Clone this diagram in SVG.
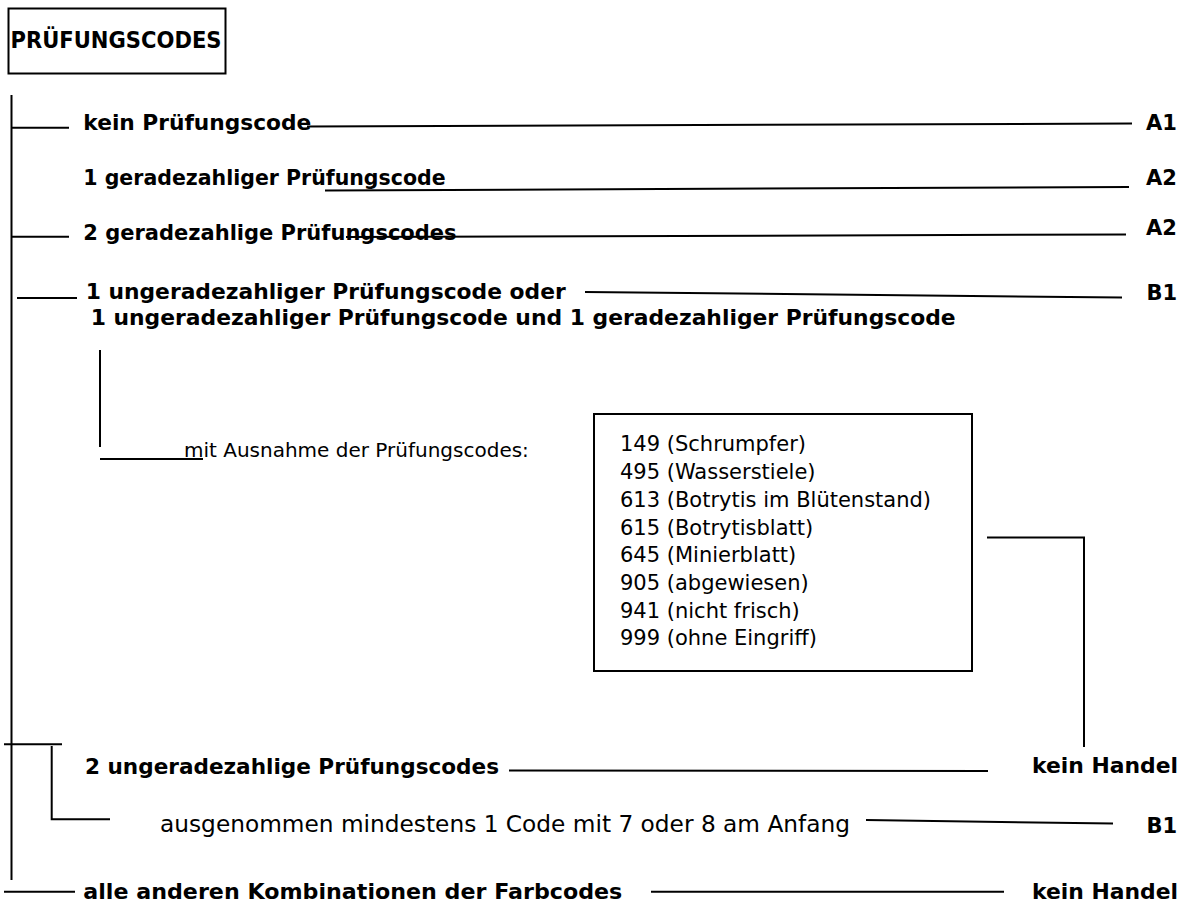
<svg xmlns="http://www.w3.org/2000/svg" width="1193" height="902" viewBox="0 0 1193 902">
<style>
.b{font-family:"DejaVu Sans",Verdana,sans-serif;font-weight:bold;fill:#000}
.r{font-family:"DejaVu Sans",Verdana,sans-serif;fill:#000}
.ln{stroke:#000;stroke-width:2;fill:none}
.box{stroke:#000;stroke-width:2;fill:#fff}
</style>
<rect width="1193" height="902" fill="#fff"/>
<g id="connectors">
<line class="ln" x1="11.5" y1="95" x2="11.5" y2="880"/>
<line class="ln" x1="12" y1="127.7" x2="69" y2="127.7"/>
<line class="ln" x1="307" y1="126.5" x2="1132" y2="123.5"/>
<line class="ln" x1="325" y1="190.5" x2="1129" y2="187"/>
<line class="ln" x1="12" y1="236.7" x2="69" y2="236.7"/>
<line class="ln" x1="346" y1="237" x2="1126" y2="234.5"/>
<line class="ln" x1="17" y1="298" x2="77" y2="298"/>
<line class="ln" x1="585" y1="292" x2="1122" y2="297.5"/>
<line class="ln" x1="100" y1="350" x2="100" y2="447"/>
<line class="ln" x1="100" y1="459" x2="203" y2="459"/>
<polyline class="ln" points="987,537.5 1084,537.5 1084,747"/>
<line class="ln" x1="4" y1="744.3" x2="62" y2="744.3"/>
<polyline class="ln" points="51.7,746 51.7,819.3 110,819.3"/>
<line class="ln" x1="509" y1="770.5" x2="988" y2="771"/>
<line class="ln" x1="866" y1="820" x2="1113" y2="823.5"/>
<line class="ln" x1="4" y1="891.7" x2="75" y2="891.7"/>
<line class="ln" x1="651" y1="891.7" x2="1004" y2="891.7"/>
</g>
<g id="title">
<rect class="box" x="8.5" y="8.5" width="217" height="65"/>
<text class="b" x="10.5" y="48" style="font-size:23px" textLength="211" lengthAdjust="spacingAndGlyphs">PRÜFUNGSCODES</text>
</g>
<g id="n-kein">
<text class="b" x="83.3" y="130" style="font-size:21px" textLength="228" lengthAdjust="spacingAndGlyphs">kein Prüfungscode</text>
<text class="b" x="1146" y="130" style="font-size:21px">A1</text>
</g>
<g id="n-1gerade">
<text class="b" x="83.3" y="185" style="font-size:20.5px">1 geradezahliger Prüfungscode</text>
<text class="b" x="1146" y="185" style="font-size:21px">A2</text>
</g>
<g id="n-2gerade">
<text class="b" x="83.3" y="240" style="font-size:21px">2 geradezahlige Prüfungscodes</text>
<text class="b" x="1146" y="235" style="font-size:21px">A2</text>
</g>
<g id="n-1ungerade">
<text class="b" x="85.7" y="298.5" style="font-size:21px" textLength="480" lengthAdjust="spacingAndGlyphs">1 ungeradezahliger Prüfungscode oder</text>
<text class="b" x="90.7" y="324.5" style="font-size:21px" textLength="865" lengthAdjust="spacingAndGlyphs">1 ungeradezahliger Prüfungscode und 1 geradezahliger Prüfungscode</text>
<text class="b" x="1146.5" y="300" style="font-size:21px">B1</text>
</g>
<g id="n-ausnahme">
<text class="r" x="184" y="457" style="font-size:20px">mit Ausnahme der Prüfungscodes:</text>
</g>
<g id="n-codes" style="font-size:21px">
<rect class="box" x="594" y="414" width="378" height="257"/>
<text class="r" x="620" y="451">149 (Schrumpfer)</text>
<text class="r" x="620" y="479">495 (Wasserstiele)</text>
<text class="r" x="620" y="507">613 (Botrytis im Blütenstand)</text>
<text class="r" x="620" y="534.5">615 (Botrytisblatt)</text>
<text class="r" x="620" y="562">645 (Minierblatt)</text>
<text class="r" x="620" y="590">905 (abgewiesen)</text>
<text class="r" x="620" y="617.5">941 (nicht frisch)</text>
<text class="r" x="620" y="645">999 (ohne Eingriff)</text>
</g>
<g id="n-2ungerade">
<text class="b" x="85" y="774" style="font-size:21px" textLength="414" lengthAdjust="spacingAndGlyphs">2 ungeradezahlige Prüfungscodes</text>
<text class="b" x="1032" y="773" style="font-size:21px" textLength="146" lengthAdjust="spacingAndGlyphs">kein Handel</text>
</g>
<g id="n-ausgenommen">
<text class="r" x="160" y="831.5" style="font-size:22.5px" textLength="690" lengthAdjust="spacingAndGlyphs">ausgenommen mindestens 1 Code mit 7 oder 8 am Anfang</text>
<text class="b" x="1146.5" y="833" style="font-size:21px">B1</text>
</g>
<g id="n-alle">
<text class="b" x="83.3" y="898.5" style="font-size:21.5px" textLength="539" lengthAdjust="spacingAndGlyphs">alle anderen Kombinationen der Farbcodes</text>
<text class="b" x="1032" y="898.5" style="font-size:21px" textLength="146" lengthAdjust="spacingAndGlyphs">kein Handel</text>
</g>
</svg>
